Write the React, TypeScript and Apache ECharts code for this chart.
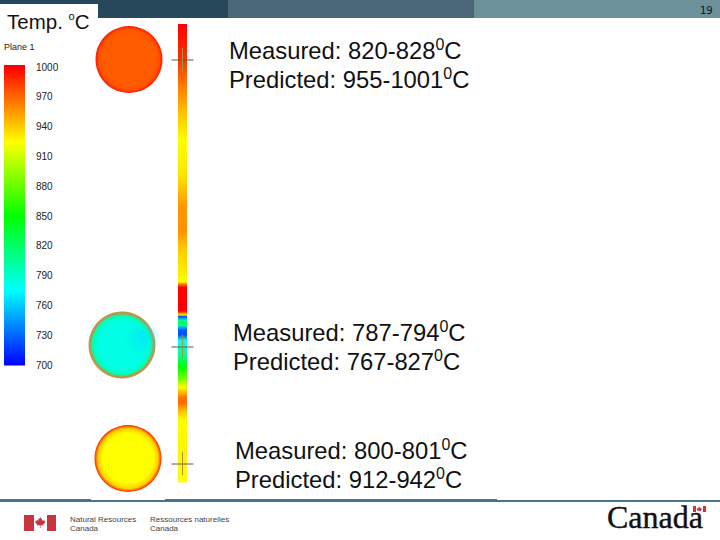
import React, { useEffect, useRef } from "react";
import * as echarts from "echarts";

const colorbarTicks = [700, 730, 760, 790, 820, 850, 880, 910, 940, 970, 1000];
const colorScaleTemps = [700, 775, 850, 925, 1000];
const colorScaleColors = [[0, 0, 255], [0, 255, 255], [0, 255, 0], [255, 255, 0], [255, 0, 0]];

const stripPositions = [0, 36, 60, 86, 116, 150, 181, 206, 226, 258, 259, 263, 287, 289, 291, 292, 296, 299, 301, 306, 311, 316, 323, 333, 343, 356, 363, 373, 379, 386, 396, 420, 458];
const stripTemps = [1000, 985, 965, 945, 925, 932, 955, 958, 940, 925, 950, 1000, 1000, 960, 925, 720, 800, 840, 790, 725, 725, 775, 790, 815, 850, 890, 925, 965, 970, 945, 925, 928, 925];

const planeNames = ["Plane A", "Plane B", "Plane C"];
const planeCoreTemps = [973, 783, 925];
const planeMidTemps = [976, 795, 940];
const planeEdgeTemps = [993, 815, 990];
const planeX = [129, 122, 128];
const planeY = [59.5, 345, 458.5];
const spotX = [142];
const spotY = [338];
const spotTemps = [765];
const probeY = [36, 323, 440];

const measuredLines = ["Measured: 820-828", "Measured: 787-794", "Measured: 800-801"];
const predictedLines = ["Predicted: 955-1001", "Predicted: 767-827", "Predicted: 912-942"];

const LEAF = "M8 0 L9.6 2.8 L11 2.2 L10.4 6 L12.4 4.2 L12.9 5.5 L15.6 5 L14.8 7.6 L16 8.2 L12.4 11.2 L12.9 12.6 L8.4 12.1 L8.5 16 L7.5 16 L7.6 12.1 L3.1 12.6 L3.6 11.2 L0 8.2 L1.2 7.6 L0.4 5 L3.1 5.5 L3.6 4.2 L5.6 6 L5 2.2 L6.4 2.8 Z";
echarts.graphic.registerShape("leaf", echarts.graphic.extendPath(LEAF, {}) as any);

function tempColor(t: number, alpha = 1) {
  let i = 0;
  while (i < colorScaleTemps.length - 2 && t > colorScaleTemps[i + 1]) i++;
  const f = (t - colorScaleTemps[i]) / (colorScaleTemps[i + 1] - colorScaleTemps[i]);
  const a = colorScaleColors[i];
  const b = colorScaleColors[i + 1];
  const c = [0, 1, 2].map((k) => Math.round(a[k] + (b[k] - a[k]) * f));
  return `rgba(${c[0]},${c[1]},${c[2]},${alpha})`;
}

function vGradient(top: string, bottom: string) {
  return { type: "linear", x: 0, y: 0, x2: 0, y2: 1, colorStops: [{ offset: 0, color: top }, { offset: 1, color: bottom }] };
}

function measureBlock(i: number, x: number, y: number) {
  const rich = {
    a: { fontFamily: "Liberation Sans", fontSize: 23.8, fill: "#111", lineHeight: 28 },
    s: { fontFamily: "Liberation Sans", fontSize: 16, fill: "#111", lineHeight: 28, verticalAlign: "top" },
  };
  return [
    { type: "text", x, y, style: { text: `{a|${measuredLines[i]}}{s|0}{a|C}`, rich } },
    { type: "text", x, y: y + 29, style: { text: `{a|${predictedLines[i]}}{s|0}{a|C}`, rich } },
  ];
}

function App() {
  const ref = useRef<HTMLDivElement>(null);
  useEffect(() => {
    const chart = echarts.init(ref.current!, undefined, { renderer: "svg" });
    const hidden = { show: false };
    chart.setOption({
      animation: false,
      backgroundColor: "#fff",
      grid: [
        { left: 4, top: 67, width: 21, height: 298 },
        { left: 178, top: 24, width: 9, height: 458 },
        { left: 0, top: 0, width: 720, height: 540 },
      ],
      xAxis: [
        { gridIndex: 0, type: "value", min: 0, max: 1, ...hidden },
        { gridIndex: 1, type: "value", min: 0, max: 1, ...hidden },
        { gridIndex: 2, type: "value", min: 0, max: 720, ...hidden },
      ],
      yAxis: [
        {
          gridIndex: 0, type: "value", min: 700, max: 1000, position: "right",
          splitLine: { show: false }, axisLine: { show: false },
          axisTick: { show: true, length: 4, customValues: colorbarTicks.slice(1, -1), lineStyle: { color: "#bbb" } },
          axisLabel: { customValues: colorbarTicks, margin: 11, formatter: (v: number) => String(v), fontFamily: "Liberation Sans", fontSize: 10, color: "#222" },
        },
        { gridIndex: 1, type: "value", min: 0, max: 458, inverse: true, ...hidden },
        { gridIndex: 2, type: "value", min: 0, max: 540, inverse: true, ...hidden },
      ],
      series: [
        {
          type: "custom", name: "Colour scale", xAxisIndex: 0, yAxisIndex: 0, silent: true,
          data: colorScaleTemps.slice(0, -1).map((t, i) => [t, colorScaleTemps[i + 1]]),
          renderItem: (_: any, api: any) => {
            const lo = api.value(0);
            const hi = api.value(1);
            const a = api.coord([0, hi]);
            const b = api.coord([1, lo]);
            return {
              type: "rect",
              shape: { x: a[0], y: a[1], width: b[0] - a[0], height: b[1] - a[1] + 0.4 },
              style: { fill: vGradient(tempColor(hi), tempColor(lo)) },
            };
          },
        },
        {
          type: "custom", name: "Axial profile", xAxisIndex: 1, yAxisIndex: 1, silent: true,
          data: stripPositions.slice(0, -1).map((p, i) => [p, stripPositions[i + 1], stripTemps[i], stripTemps[i + 1]]),
          renderItem: (_: any, api: any) => {
            const a = api.coord([0, api.value(0)]);
            const b = api.coord([1, api.value(1)]);
            return {
              type: "rect",
              shape: { x: a[0], y: a[1], width: b[0] - a[0], height: b[1] - a[1] + 0.4 },
              style: { fill: vGradient(tempColor(api.value(2)), tempColor(api.value(3))) },
            };
          },
        },
        {
          type: "scatter", name: "Plane sections", xAxisIndex: 2, yAxisIndex: 2, silent: true,
          data: planeNames.map((name, i) => ({
            name,
            value: [planeX[i], planeY[i]],
            symbolSize: i === 1 ? 64 : 67,
            itemStyle: {
              opacity: 1,
              borderColor: i === 1 ? "#b39b55" : "transparent",
              borderWidth: i === 1 ? 3 : 0,
              color: {
                type: "radial", x: 0.5, y: 0.5, r: 0.5,
                colorStops: [
                  { offset: 0, color: tempColor(planeCoreTemps[i]) },
                  { offset: 0.75, color: tempColor(planeCoreTemps[i]) },
                  { offset: 0.9, color: tempColor(planeMidTemps[i]) },
                  { offset: 1, color: tempColor(planeEdgeTemps[i]) },
                ],
              },
            },
          })),
        },
        {
          type: "scatter", name: "Cool spot", xAxisIndex: 2, yAxisIndex: 2, silent: true, symbolSize: 36,
          data: spotX.map((x, i) => ({
            value: [x, spotY[i]],
            itemStyle: {
              opacity: 1,
              color: {
                type: "radial", x: 0.5, y: 0.5, r: 0.5,
                colorStops: [
                  { offset: 0, color: tempColor(spotTemps[i], 0.6) },
                  { offset: 1, color: tempColor(spotTemps[i], 0) },
                ],
              },
            },
          })),
        },
        {
          type: "custom", name: "Probes", xAxisIndex: 1, yAxisIndex: 1, silent: true, clip: false,
          data: probeY.map((p) => [p]),
          renderItem: (_: any, api: any) => {
            const c = api.coord([0.5, api.value(0)]);
            const style = { stroke: "#5a5a4a", lineWidth: 1, fill: "none" };
            return {
              type: "group",
              children: [
                { type: "line", shape: { x1: c[0] - 11, y1: c[1], x2: c[0] + 11, y2: c[1] }, style },
                { type: "line", shape: { x1: c[0], y1: c[1] - 12, x2: c[0], y2: c[1] + 11 }, style: { ...style, stroke: "#a89040" } },
              ],
            };
          },
        },
      ],
      graphic: [
        { type: "rect", shape: { x: 0, y: 0, width: 228, height: 18 }, style: { fill: "#26485a" } },
        { type: "rect", shape: { x: 228, y: 0, width: 246, height: 18 }, style: { fill: "#4a6778" } },
        { type: "rect", shape: { x: 474, y: 0, width: 246, height: 18 }, style: { fill: "#6d919a" } },
        { type: "rect", shape: { x: 0, y: 4, width: 98, height: 28 }, style: { fill: "#fff" } },
        { type: "rect", shape: { x: 4, y: 65, width: 21, height: 2 }, style: { fill: "#ff0000" } },
        { type: "text", x: 700, y: 5, style: { text: "19", fontFamily: "DejaVu Sans", fontSize: 10, fill: "#111" } },
        {
          type: "text", x: 7, y: 10,
          style: {
            text: "{a|Temp. }{s|o}{a|C}",
            rich: {
              a: { fontFamily: "Liberation Sans", fontSize: 20.5, fill: "#111", lineHeight: 22 },
              s: { fontFamily: "Liberation Sans", fontSize: 11, fill: "#111", lineHeight: 22, verticalAlign: "top" },
            },
          },
        },
        { type: "text", x: 4, y: 42, style: { text: "Plane 1", fontFamily: "Liberation Sans", fontSize: 9, fill: "#222" } },
        ...measureBlock(0, 229, 36),
        ...measureBlock(1, 233, 318),
        ...measureBlock(2, 235, 436),
        { type: "rect", shape: { x: 0, y: 500, width: 720, height: 2 }, style: { fill: "#4a7496" } },
        { type: "rect", shape: { x: 0, y: 499, width: 91, height: 1 }, style: { fill: "#4a7496" } },
        { type: "rect", shape: { x: 165, y: 499, width: 332, height: 1 }, style: { fill: "#4a7496" } },
        { type: "rect", shape: { x: 24, y: 515, width: 10, height: 16 }, style: { fill: "#c9343f" } },
        { type: "rect", shape: { x: 47, y: 515, width: 9, height: 16 }, style: { fill: "#c9343f" } },
        { type: "leaf", x: 35, y: 517, scaleX: 0.65, scaleY: 0.68, style: { fill: "#c9343f" } },
        { type: "text", x: 70, y: 515, style: { text: "Natural Resources", fontFamily: "Liberation Sans", fontSize: 8, fill: "#444" } },
        { type: "text", x: 70, y: 524, style: { text: "Canada", fontFamily: "Liberation Sans", fontSize: 8, fill: "#444" } },
        { type: "text", x: 150, y: 515, style: { text: "Ressources naturelles", fontFamily: "Liberation Sans", fontSize: 8, fill: "#444" } },
        { type: "text", x: 150, y: 524, style: { text: "Canada", fontFamily: "Liberation Sans", fontSize: 8, fill: "#444" } },
        { type: "text", x: 607, y: 501, style: { text: "Canada", fontFamily: "Liberation Serif", fontSize: 32, fill: "#111", stroke: "#111", lineWidth: 0.4 } },
        { type: "rect", shape: { x: 693, y: 506, width: 3, height: 6 }, style: { fill: "#c9343f" } },
        { type: "rect", shape: { x: 703, y: 506, width: 3, height: 6 }, style: { fill: "#c9343f" } },
        { type: "leaf", x: 696.5, y: 506.5, scaleX: 0.35, scaleY: 0.35, style: { fill: "#c9343f" } },
      ],
    });
    return () => chart.dispose();
  }, []);
  return <div ref={ref} style={{ position: "absolute", left: 0, top: 0, width: 720, height: 540 }} />;
}

export default App;
